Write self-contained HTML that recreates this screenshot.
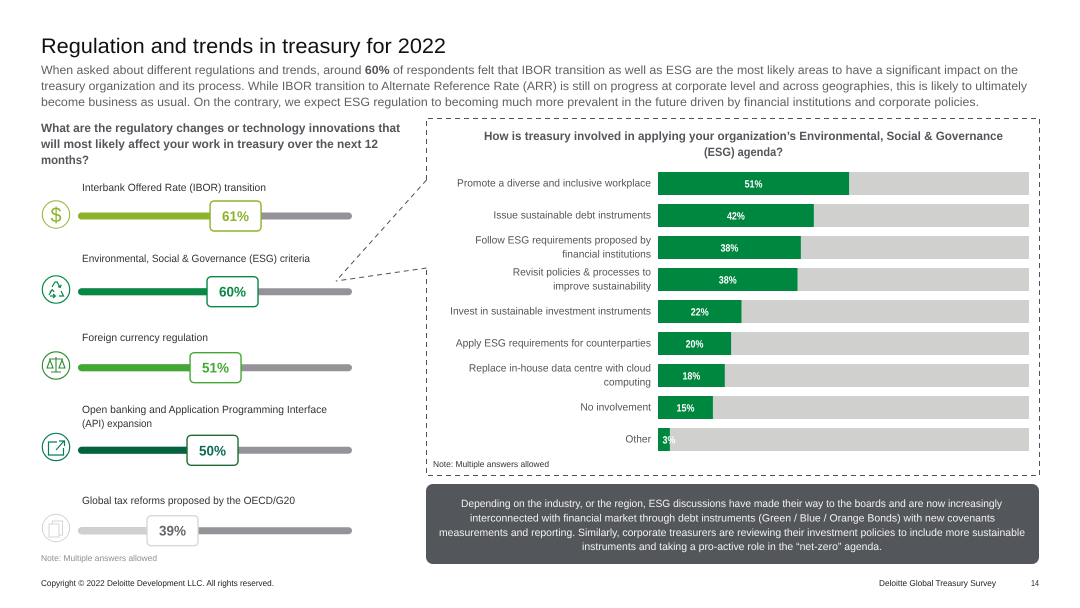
<!DOCTYPE html>
<html lang="en">
<head>
<meta charset="utf-8">
<title>Regulation and trends in treasury for 2022</title>
<style>
html,body{margin:0;padding:0;background:#fff;width:1080px;height:608px;overflow:hidden}
svg{display:block}
text{font-family:"Liberation Sans",sans-serif;text-rendering:geometricPrecision}
.p{font-size:12px;fill:#5f6165}
.h{font-size:12px;font-weight:bold;fill:#53565a}
.l{font-size:10.5px;fill:#333}
.c{font-size:10.5px;fill:#53565a}
.w{font-size:10.5px;fill:#f2f2f2}
.n{font-size:8.5px}
.b{font-size:14px;font-weight:bold}
</style>
</head>
<body>
<svg id="slide" width="1080" height="608" viewBox="0 0 1080 608" xmlns="http://www.w3.org/2000/svg">
<rect width="1080" height="608" fill="#fff"/>
<text x="41" y="53" font-size="21" fill="#111" textLength="405" lengthAdjust="spacingAndGlyphs">Regulation and trends in treasury for 2022</text>
<g>
<text class="p" x="41" y="74" textLength="977" lengthAdjust="spacingAndGlyphs">When asked about different regulations and trends, around <tspan font-weight="bold" fill="#53565a">60%</tspan> of respondents felt that IBOR transition as well as ESG are the most likely areas to have a significant impact on the</text>
<text class="p" x="41" y="90" textLength="986" lengthAdjust="spacingAndGlyphs">treasury organization and its process. While IBOR transition to Alternate Reference Rate (ARR) is still on progress at corporate level and across geographies, this is likely to ultimately</text>
<text class="p" x="41" y="106" textLength="938" lengthAdjust="spacingAndGlyphs">become business as usual. On the contrary, we expect ESG regulation to becoming much more prevalent in the future driven by financial institutions and corporate policies.</text>
</g>
<g>
<text class="h" x="41" y="132" textLength="359" lengthAdjust="spacingAndGlyphs">What are the regulatory changes or technology innovations that</text>
<text class="h" x="41" y="148" textLength="337" lengthAdjust="spacingAndGlyphs">will most likely affect your work in treasury over the next 12</text>
<text class="h" x="41" y="164" textLength="48" lengthAdjust="spacingAndGlyphs">months?</text>
</g>

<text class="l" x="82" y="191" textLength="184" lengthAdjust="spacingAndGlyphs">Interbank Offered Rate (IBOR) transition</text>
<text class="l" x="82" y="262" textLength="228" lengthAdjust="spacingAndGlyphs">Environmental, Social &amp; Governance (ESG) criteria</text>
<text class="l" x="82" y="341" textLength="126" lengthAdjust="spacingAndGlyphs">Foreign currency regulation</text>
<text class="l" x="82" y="413" textLength="245" lengthAdjust="spacingAndGlyphs">Open banking and Application Programming Interface</text>
<text class="l" x="82" y="427" textLength="70" lengthAdjust="spacingAndGlyphs">(API) expansion</text>
<text class="l" x="82" y="504" textLength="213" lengthAdjust="spacingAndGlyphs">Global tax reforms proposed by the OECD/G20</text>

<g fill="none">
<circle cx="56" cy="214.5" r="13.7" stroke="#8db32b" stroke-width="1"/>
<text x="56" y="222" font-size="21" text-anchor="middle" fill="#8db32b" textLength="11" lengthAdjust="spacingAndGlyphs">$</text>
</g>
<g fill="none" stroke="#078845" stroke-width="1.2">
<circle cx="56" cy="289.5" r="13.7"/>
<path d="M52 287l3-5h2l3 5M58 286.500l2.300 .8 .8-2.600M49 295l3-5M49.800 292.500l2.400-2.800 2 2.200M50 296h5M53 294l2.300 2-2.300 2M59 296h4.500l-2.500-5"/>
</g>
<g fill="none" stroke="#2e8b2c" stroke-width="1.1">
<circle cx="56" cy="365.500" r="13.7"/>
<path d="M56 357v15M49 359h14M51 372h10M50 360l-3 8h6zM62 360l-3 8h6z"/>
</g>
<g fill="none" stroke="#0c7a5c" stroke-width="1.2">
<circle cx="56" cy="447" r="13.7"/>
<path d="M57 442h-8.500v13h15v-7M56 450l8-9M59 441h5.500v5"/>
</g>
<g fill="#fff" stroke="#d4d4d4" stroke-width="1">
<circle cx="56" cy="528" r="13.7"/>
<rect x="52.500" y="521" width="10" height="14"/>
<rect x="49" y="524" width="10" height="13"/>
</g>

<g id="sliders"></g>

<text class="n" x="41" y="561" fill="#8f8f8f" textLength="116" lengthAdjust="spacingAndGlyphs">Note: Multiple answers allowed</text>

<g fill="none" stroke="#4f5256" stroke-width="1" stroke-dasharray="5 4">
<path d="M426.500 180V118.500H1039.500V475.500H426.500V268"/>
<path d="M426.500 180L336 281"/>
<path d="M426.500 268L336 281"/>
</g>

<g>
<text class="h" x="484" y="140" textLength="519" lengthAdjust="spacingAndGlyphs">How is treasury involved in applying your organization’s Environmental, Social &amp; Governance</text>
<text class="h" x="704" y="156" textLength="79" lengthAdjust="spacingAndGlyphs">(ESG) agenda?</text>
</g>

<g id="chart"></g>

<text class="n" x="433" y="467" fill="#333" textLength="116" lengthAdjust="spacingAndGlyphs">Note: Multiple answers allowed</text>

<g>
<rect x="426" y="484" width="613" height="80" rx="7" fill="#53565a"/>
<text class="w" x="461" y="507" textLength="541" lengthAdjust="spacingAndGlyphs">Depending on the industry, or the region, ESG discussions have made their way to the boards and are now increasingly</text>
<text class="w" x="470" y="521.500" textLength="525" lengthAdjust="spacingAndGlyphs">interconnected with financial market through debt instruments (Green / Blue / Orange Bonds) with new covenants</text>
<text class="w" x="439" y="536" textLength="586" lengthAdjust="spacingAndGlyphs">measurements and reporting. Similarly, corporate treasurers are reviewing their investment policies to include more sustainable</text>
<text class="w" x="582" y="550" textLength="300" lengthAdjust="spacingAndGlyphs">instruments and taking a pro-active role in the “net-zero” agenda.</text>
</g>

<text class="n" x="41" y="586" fill="#222" textLength="233" lengthAdjust="spacingAndGlyphs">Copyright © 2022 Deloitte Development LLC. All rights reserved.</text>
<text class="n" x="879" y="586" fill="#222" textLength="117" lengthAdjust="spacingAndGlyphs">Deloitte Global Treasury Survey</text>
<text class="n" x="1031" y="586" fill="#222" textLength="8" lengthAdjust="spacingAndGlyphs">14</text>
</svg>

<script>
// Slider data: knob position as drawn (percent of the track) and printed labels
const sliderKeys = ['ibor', 'esg', 'fx', 'api', 'tax'];
const sliderValues = [57.5, 56.4, 50.2, 49.1, 34.5];
const sliderLabels = ['61%', '60%', '51%', '50%', '39%'];

// Bar chart data: measured bar share (percent) and printed labels
const barCategories = [
  ['Promote a diverse and inclusive workplace'],
  ['Issue sustainable debt instruments'],
  ['Follow ESG requirements proposed by', 'financial institutions'],
  ['Revisit policies & processes to', 'improve sustainability'],
  ['Invest in sustainable investment instruments'],
  ['Apply ESG requirements for counterparties'],
  ['Replace in-house data centre with cloud', 'computing'],
  ['No involvement'],
  ['Other']
];
const barValues = [51.5, 42, 38.5, 37.6, 22.5, 19.7, 18, 14.8, 3.2];
const barLabels = ['51%', '42%', '38%', '38%', '22%', '20%', '18%', '15%', '3%'];

const NS = 'http://www.w3.org/2000/svg';
function mk(parent, tag, attrs, txt) {
  const e = document.createElementNS(NS, tag);
  for (const k in attrs) e.setAttribute(k, attrs[k]);
  if (txt !== undefined) e.textContent = txt;
  parent.appendChild(e);
  return e;
}

// Slider layout
const sliderColors = ['#8db32b', '#078845', '#43a833', '#04633f', '#d0d0ce'];
const sliderBorders = ['#8db32b', '#078845', '#43a833', '#1f6b2e', '#d8d8d6'];
const sliderText = ['#8db32b', '#078845', '#43a833', '#0c6b52', '#63666a'];
const sliderRows = [216, 291.7, 367.7, 450.3, 530.7];
const trackX = v => 78 + (v / 100) * 274;

const sliderRoot = document.getElementById('sliders');
sliderValues.forEach((v, i) => {
  const g = mk(sliderRoot, 'g', {});
  
  
  const cy = sliderRows[i];
  const cx = trackX(v);
  const track = mk(g, 'rect', {x: 78, y: cy - 3.5, width: 274, height: 7, rx: 3.5, fill: '#959397'});
  
  
  const fill = mk(g, 'rect', {x: 78, y: cy - 3.5, width: cx - 78, height: 7, rx: 3.5, fill: sliderColors[i]});
  
  
  const badge = mk(g, 'rect', {x: cx - 25.5, y: cy - 15, width: 51, height: 30, rx: 4, fill: '#fff', stroke: sliderBorders[i], 'stroke-width': 1.4});
  
  
  const lab = mk(g, 'text', {x: cx, y: cy + 5, 'text-anchor': 'middle', class: 'b', fill: sliderText[i], textLength: 27, lengthAdjust: 'spacingAndGlyphs'}, sliderLabels[i]);
  
  
});

// Bar chart layout
const chartLeft = 658, chartWidth = 371, barTop = 172, barStep = 32, barH = 23;
const xScale = v => (v / 100) * chartWidth;
const yScale = i => barTop + i * barStep;
const condense = 0.975;

const chartRoot = document.getElementById('chart');
barValues.forEach((v, i) => {
  const g = mk(chartRoot, 'g', {});
  
  
  const y = yScale(i);
  const bg = mk(g, 'rect', {x: chartLeft, y: y, width: chartWidth, height: barH, fill: '#d0d0ce'});
  
  
  const w = xScale(v);
  const bar = mk(g, 'rect', {x: chartLeft, y: y, width: w, height: barH, fill: '#00873f'});
  
  
  const narrow = w < 30;
  const val = mk(g, 'text', {
    x: narrow ? chartLeft + 4.5 : chartLeft + w / 2,
    y: y + 15.5,
    'text-anchor': narrow ? 'start' : 'middle',
    'font-size': 10.5,
    'font-weight': 'bold',
    fill: '#fff'
  }, barLabels[i]);
  
  
  val.setAttribute('textLength', (val.getComputedTextLength() * 0.85).toFixed(1));
  val.setAttribute('lengthAdjust', 'spacingAndGlyphs');
  const lines = barCategories[i];
  const mid = y + barH / 2;
  lines.forEach((line, j) => {
    const ly = lines.length === 1 ? mid + 2.9 : mid + 2.9 + (j - 0.5) * 14;
    const t = mk(g, 'text', {x: 651, y: ly, 'text-anchor': 'end', class: 'c'}, line);
    
    
    t.setAttribute('textLength', (t.getComputedTextLength() * condense).toFixed(1));
    t.setAttribute('lengthAdjust', 'spacingAndGlyphs');
  });
});
</script>
</body>
</html>
